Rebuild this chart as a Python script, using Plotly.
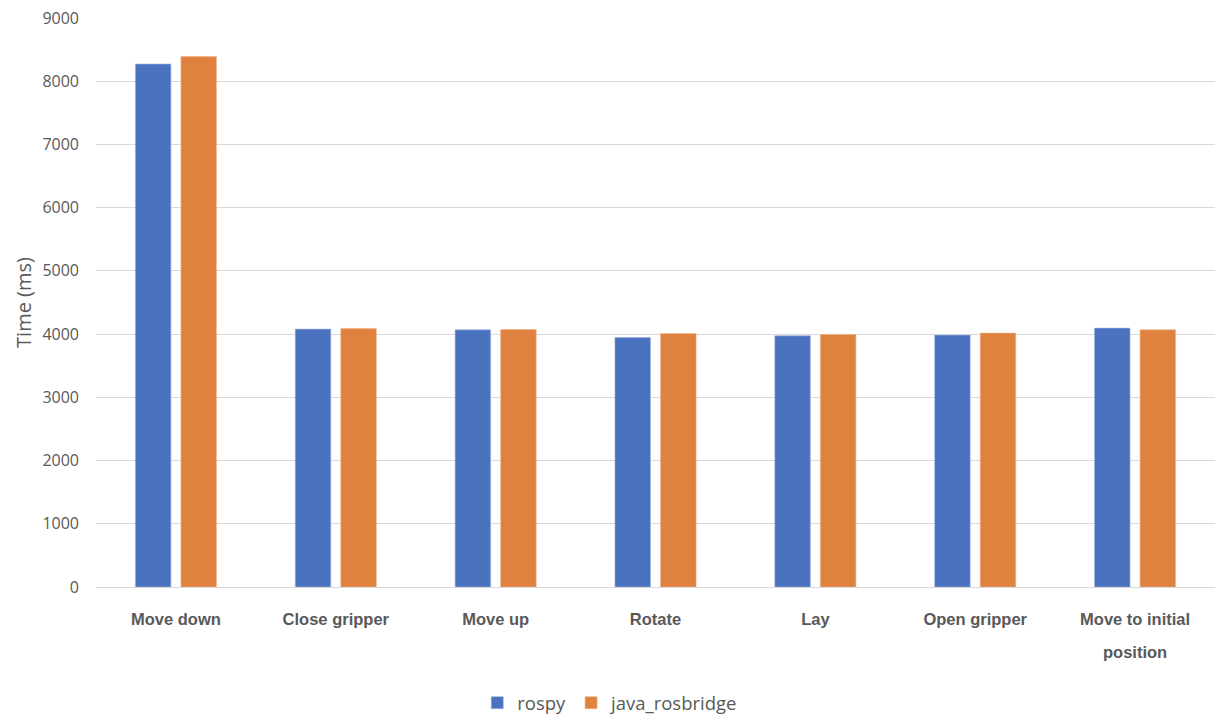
import plotly.graph_objects as go

categories = ["Move down", "Close gripper", "Move up", "Rotate", "Lay",
              "Open gripper", "Move to initial position"]
tick_labels = ["Move down", "Close gripper", "Move up", "Rotate", "Lay",
               "Open gripper", "Move to initial"]
wrapped_tail = {"Move to initial position": "position"}
rospy = [8272, 4079, 4068, 3948, 3974, 3984, 4095]
java_rosbridge = [8390, 4090, 4074, 4010, 3995, 4016, 4068]
y_ticks = [0, 1000, 2000, 3000, 4000, 5000, 6000, 7000, 8000, 9000]

label_font = dict(family="Liberation Sans", size=16.5, color="#595959", weight="bold")

fig = go.Figure()
fig.add_trace(go.Bar(name="rospy", x=categories, y=rospy,
                     marker=dict(color="#4A72BE", line=dict(color="#9fb4e0", width=0.6))))
fig.add_trace(go.Bar(name="java_rosbridge", x=categories, y=java_rosbridge,
                     marker=dict(color="#E0823F", line=dict(color="#f0b48a", width=0.6))))

for cat, tail in wrapped_tail.items():
    fig.add_annotation(x=cat, xref="x", y=-0.114, yref="paper", yanchor="middle",
                       text=tail, showarrow=False, font=label_font)

fig.update_layout(
    width=1215, height=716,
    margin=dict(l=96, r=0, t=18, b=129),
    plot_bgcolor="white", paper_bgcolor="white",
    barmode="group", bargap=0.43, bargroupgap=0.22,
    font=dict(family="Open Sans", color="#595959", size=16),
    legend=dict(orientation="h", x=0.46, xanchor="center", yref="container",
                y=0.018, yanchor="middle",
                font=dict(size=18.5, color="#595959"), itemwidth=30),
    showlegend=True,
)
fig.update_xaxes(showgrid=False, showline=True, linecolor="#d9d9d9", linewidth=1,
                 ticks="", ticklen=0, automargin=False, ticklabelstandoff=17,
                 tickvals=categories, ticktext=tick_labels, tickfont=label_font)
fig.update_yaxes(range=[0, 9000], tickvals=y_ticks, showgrid=True, gridcolor="#d9d9d9",
                 gridwidth=1, zeroline=False, showline=False, automargin=False,
                 ticklabelstandoff=16,
                 tickfont=dict(size=16, color="#595959"),
                 title=dict(text="Time (ms)", font=dict(size=20, color="#595959"), standoff=5))

fig.write_html("out.html")
